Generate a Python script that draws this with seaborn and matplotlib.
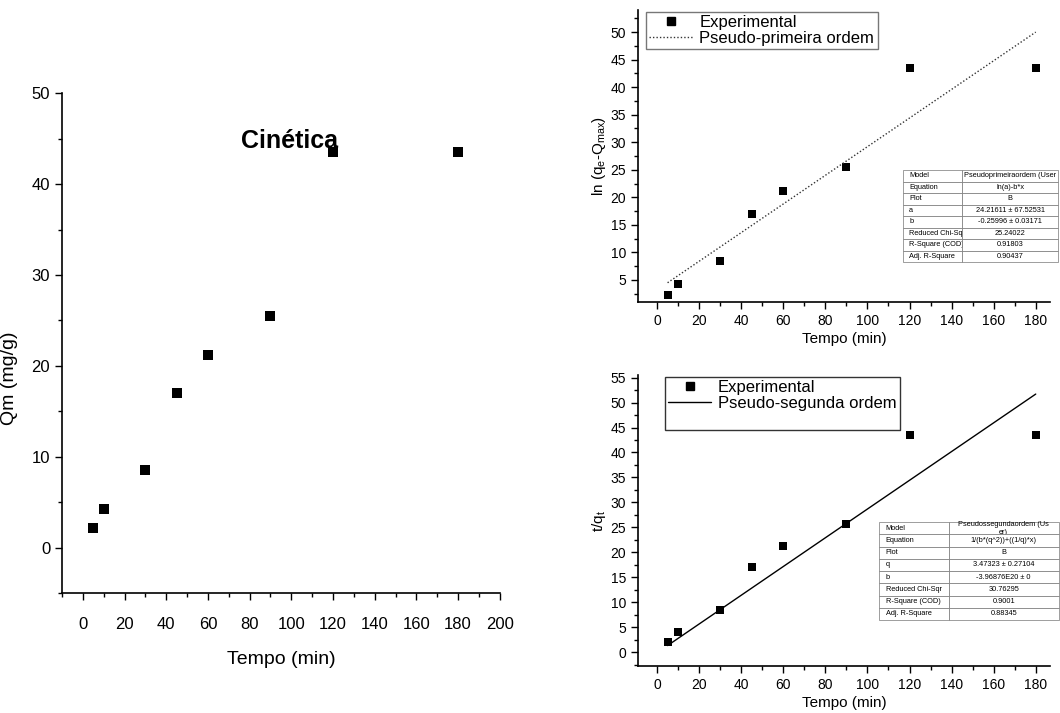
import matplotlib
matplotlib.use("Agg")
import matplotlib.pyplot as plt
import matplotlib.lines as mlines
from matplotlib.ticker import MultipleLocator
import pandas as pd
import seaborn as sns

# data
tempo = [5, 10, 30, 45, 60, 90, 120, 180]
qm = [2.1, 4.2, 8.5, 17.0, 21.2, 25.5, 43.5, 43.5]
ln_q = [2.2, 4.3, 8.4, 17.0, 21.2, 25.5, 43.5, 43.5]
t_qt = [2.1, 4.1, 8.5, 17.0, 21.3, 25.6, 43.5, 43.5]

fit_t = [5, 180]
fit_primeira = [4.5, 50.0]
fit_segunda = [1.3, 51.7]

tab_rows = ["Model", "Equation", "Plot", "a", "b", "Reduced Chi-Sqr", "R-Square (COD)", "Adj. R-Square"]
tab1_vals = ["Pseudoprimeiraordem (User", "ln(a)-b*x", "B", "24.21611 \u00b1 67.52531",
             "-0.25996 \u00b1 0.03171", "25.24022", "0.91803", "0.90437"]
tab2_rows = ["Model", "Equation", "Plot", "q", "b", "Reduced Chi-Sqr", "R-Square (COD)", "Adj. R-Square"]
tab2_vals = ["Pseudossegundaordem (Us\ner)", "1/(b*(q^2))+((1/q)*x)", "B", "3.47323 \u00b1 0.27104",
             "-3.96876E20 \u00b1 0", "30.76295", "0.9001", "0.88345"]

sns.set_style("ticks")
plt.rcParams["font.family"] = ["Liberation Sans", "DejaVu Sans"]
plt.rcParams["mathtext.fontset"] = "custom"
plt.rcParams["mathtext.rm"] = "Liberation Sans"
plt.rcParams["mathtext.it"] = "Liberation Sans"
for key in ["text.color", "axes.labelcolor", "xtick.color", "ytick.color"]:
    plt.rcParams[key] = "black"

df = pd.DataFrame({"tempo": tempo, "qm": qm, "ln_q": ln_q, "t_qt": t_qt})
fit_df = pd.DataFrame({"t": fit_t, "f1": fit_primeira, "f2": fit_segunda})

fig = plt.figure(figsize=(10.6, 7.13), dpi=100)
ax0 = fig.add_axes([0.0585, 0.1683, 0.413, 0.701])
ax1 = fig.add_axes([0.602, 0.5764, 0.389, 0.4095])
ax2 = fig.add_axes([0.602, 0.0659, 0.389, 0.408])


def style_axis(ax, lab_size):
    for side in ["top", "right"]:
        ax.spines[side].set_visible(False)
    for side in ["left", "bottom"]:
        ax.spines[side].set_linewidth(1.2)
        ax.spines[side].set_color("black")
    ax.tick_params(which="major", direction="out", length=5, width=1.0, labelsize=lab_size, colors="black")
    ax.tick_params(which="minor", direction="out", length=3, width=1.0, colors="black")


# left panel: kinetics
sns.scatterplot(data=df, x="tempo", y="qm", ax=ax0, marker="s", s=60, color="black",
                edgecolor="black", linewidth=0)
ax0.set_xlim(-10, 200)
ax0.set_ylim(-5, 50)
ax0.xaxis.set_major_locator(MultipleLocator(20))
ax0.xaxis.set_minor_locator(MultipleLocator(10))
ax0.yaxis.set_major_locator(MultipleLocator(10))
ax0.yaxis.set_minor_locator(MultipleLocator(5))
style_axis(ax0, 12)
ax0.tick_params(axis="x", which="major", pad=12)
ax0.set_xlabel("Tempo (min)", fontsize=14, labelpad=14)
ax0.set_ylabel("Qm (mg/g)", fontsize=14)
ax0.yaxis.set_label_coords(-0.1, 0.43)
ax0.text(0.52, 0.905, "Cinética", transform=ax0.transAxes, ha="center", va="center",
         fontsize=18, fontweight="bold")

# top right: pseudo-first order
sns.scatterplot(data=df, x="tempo", y="ln_q", ax=ax1, marker="s", s=40, color="black",
                edgecolor="black", linewidth=0)
sns.lineplot(data=fit_df, x="t", y="f1", ax=ax1, color="#333333", linestyle=(0, (1, 1.5)), linewidth=1.0)
ax1.set_xlim(-9, 187)
ax1.set_ylim(1, 54)
ax1.xaxis.set_major_locator(MultipleLocator(20))
ax1.xaxis.set_minor_locator(MultipleLocator(10))
ax1.yaxis.set_major_locator(MultipleLocator(5))
ax1.yaxis.set_minor_locator(MultipleLocator(2.5))
ax1.set_yticks(range(5, 51, 5))
style_axis(ax1, 10)
ax1.set_xlabel("Tempo (min)", fontsize=11, labelpad=3)
ax1.set_ylabel(r"ln (q$_\mathregular{e}$-Q$_\mathregular{max}$)", fontsize=11, labelpad=2)
h_exp = mlines.Line2D([], [], color="black", marker="s", markersize=6, linestyle="none")
h_f1 = mlines.Line2D([], [], color="#333333", linestyle=(0, (1, 1.5)), linewidth=1.0)
leg1 = ax1.legend([h_exp, h_f1], ["Experimental", "Pseudo-primeira ordem"], loc="upper left",
                  bbox_to_anchor=(0.015, 1.0), fontsize=12, frameon=True, fancybox=False,
                  borderpad=0.2, handlelength=2.6, handletextpad=0.4, labelspacing=0.05,
                  borderaxespad=0.1)
leg1.get_frame().set_edgecolor("#555555")
leg1.get_frame().set_linewidth(1.0)

# bottom right: pseudo-second order
sns.scatterplot(data=df, x="tempo", y="t_qt", ax=ax2, marker="s", s=40, color="black",
                edgecolor="black", linewidth=0)
sns.lineplot(data=fit_df, x="t", y="f2", ax=ax2, color="black", linewidth=1.0)
ax2.set_xlim(-9, 187)
ax2.set_ylim(-2.8, 55.5)
ax2.xaxis.set_major_locator(MultipleLocator(20))
ax2.xaxis.set_minor_locator(MultipleLocator(10))
ax2.yaxis.set_major_locator(MultipleLocator(5))
ax2.yaxis.set_minor_locator(MultipleLocator(2.5))
style_axis(ax2, 10)
ax2.set_xlabel("Tempo (min)", fontsize=11, labelpad=3)
ax2.set_ylabel(r"t/q$_\mathregular{t}$", fontsize=11, labelpad=2)
h_f2 = mlines.Line2D([], [], color="black", linewidth=1.0)
h_blank = mlines.Line2D([], [], color="none")
leg2 = ax2.legend([h_exp, h_f2, h_blank], ["Experimental", "Pseudo-segunda ordem", " "], loc="upper left",
                  bbox_to_anchor=(0.06, 1.0), fontsize=12, frameon=True, fancybox=False,
                  borderpad=0.2, handlelength=2.6, handletextpad=0.4, labelspacing=0.05,
                  borderaxespad=0.1)
leg2.get_frame().set_edgecolor("black")
leg2.get_frame().set_linewidth(1.0)


def add_table(ax, rows, vals, bbox, col_w):
    cells = [[r, v] for r, v in zip(rows, vals)]
    tb = ax.table(cellText=cells, colWidths=col_w, bbox=bbox, cellLoc="center")
    tb.auto_set_font_size(False)
    tb.set_fontsize(5.3)
    for (r, c), cell in tb.get_celld().items():
        cell.set_linewidth(0.5)
        cell.set_edgecolor("#777777")
        if c == 0:
            cell.get_text().set_ha("left")
            cell._loc = "left"
    return tb


add_table(ax1, tab_rows, tab1_vals, [0.643, 0.137, 0.376, 0.315], [0.38, 0.62])
add_table(ax2, tab2_rows, tab2_vals, [0.583, 0.158, 0.437, 0.337], [0.39, 0.61])

fig.savefig("out.png", dpi=100)
